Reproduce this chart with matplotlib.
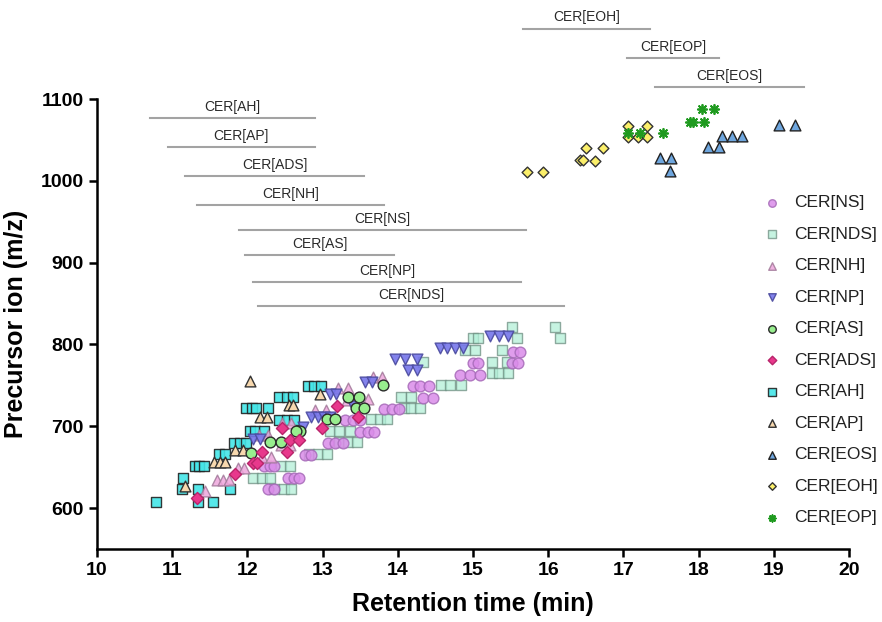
import matplotlib
matplotlib.use("Agg")
import matplotlib.pyplot as plt

plt.rcParams['font.family'] = ['Liberation Sans', 'DejaVu Sans']

# retention time (min) / precursor ion (m/z) per class
ns_x = [15.53, 15.63, 15.00, 15.07, 15.52, 15.60, 14.83, 14.96, 15.09, 14.20, 14.30, 14.42,
        14.34, 14.47, 13.82, 13.92, 14.02, 13.30, 13.40, 13.50, 13.50, 13.60, 13.68,
        13.07, 13.17, 13.27, 12.77, 12.85, 12.22, 12.30, 12.36, 12.54, 12.62, 12.68, 12.28, 12.35]
ns_y = [791, 791, 777, 777, 777, 777, 763, 763, 763, 749, 749, 749,
        735, 735, 721, 721, 721, 708, 708, 708, 693, 693, 693,
        679, 679, 679, 665, 665, 651, 651, 651, 637, 637, 637, 623, 623]

nds_x = [15.52, 16.09, 15.58, 16.16, 15.00, 15.07, 14.90, 15.02, 15.39, 15.25, 15.45, 14.34,
         15.25, 15.35, 15.46, 14.58, 14.70, 14.84, 14.04, 14.18, 14.08, 14.18, 14.30,
         13.64, 13.76, 13.86, 13.10, 13.22, 13.36, 13.22, 13.34, 13.46, 12.82, 12.94, 13.06,
         12.44, 12.56, 12.08, 12.20, 12.30, 12.36, 12.48, 12.58]
nds_y = [821, 821, 808, 808, 808, 808, 793, 793, 793, 778, 778, 778,
         765, 765, 765, 750, 750, 750, 736, 736, 722, 722, 722,
         709, 709, 709, 694, 694, 694, 681, 681, 681, 666, 666, 666,
         651, 651, 637, 637, 637, 623, 623, 623]

nh_x = [13.67, 13.79, 13.20, 13.34, 13.60, 13.32, 13.43, 12.90, 13.04, 12.46, 12.58,
        12.15, 12.28, 12.44, 12.56, 12.20, 12.32, 11.88, 11.96, 11.60, 11.68, 11.76, 11.44]
nh_y = [760, 760, 747, 747, 733, 732, 732, 720, 720, 704, 704,
        689, 689, 677, 677, 662, 662, 649, 649, 634, 634, 634, 621]

np_x = [15.23, 15.35, 15.47, 14.56, 14.66, 14.76, 14.87, 13.96, 14.10, 14.26, 14.13, 14.26,
        13.56, 13.66, 13.10, 13.18, 13.40, 12.84, 12.94, 13.02, 13.10, 12.74, 12.08, 12.17]
np_y = [810, 810, 810, 796, 796, 796, 796, 782, 782, 782, 769, 769,
        754, 754, 739, 739, 725, 711, 711, 711, 711, 699, 684, 684]

as_x = [13.80, 13.34, 13.48, 13.45, 13.55, 13.06, 13.16, 12.70, 12.64, 12.30, 12.44, 12.05]
as_y = [750, 736, 736, 722, 722, 709, 709, 694, 694, 681, 681, 667]

ads_x = [11.33, 11.84, 12.07, 12.13, 12.19, 12.52, 12.46, 12.57, 12.69, 13.19, 12.99, 13.47]
ads_y = [612, 642, 655, 655, 669, 668, 698, 683, 683, 725, 698, 711]

ah_x = [10.78, 11.34, 11.54, 11.13, 11.34, 11.77, 11.15, 11.30, 11.36, 11.42, 11.62, 11.70,
        11.82, 11.90, 11.98, 12.04, 12.10, 12.22, 11.98, 12.06, 12.12, 12.28,
        12.42, 12.52, 12.62, 12.42, 12.52, 12.60, 12.80, 12.88, 12.98]
ah_y = [608, 608, 608, 623, 623, 623, 637, 651, 651, 651, 666, 666,
        680, 680, 680, 694, 694, 694, 722, 722, 722, 722,
        708, 708, 708, 736, 736, 736, 749, 749, 749]

ap_x = [12.03, 12.55, 12.61, 12.17, 12.26, 12.97, 11.84, 11.94, 11.55, 11.63, 11.70, 11.17]
ap_y = [755, 726, 726, 711, 711, 740, 671, 671, 656, 656, 656, 627]

eos_x = [17.49, 17.63, 17.62, 18.13, 18.27, 18.31, 18.45, 18.58, 19.07, 19.28]
eos_y = [1028, 1028, 1012, 1041, 1041, 1055, 1055, 1055, 1068, 1068]

eoh_x = [15.72, 15.93, 16.42, 16.46, 16.62, 16.50, 16.73, 17.06, 17.20, 17.31, 17.06, 17.31]
eoh_y = [1011, 1011, 1025, 1025, 1024, 1040, 1040, 1053, 1053, 1053, 1067, 1067]

eop_x = [17.06, 17.22, 17.53, 17.88, 17.93, 18.07, 18.04, 18.20]
eop_y = [1058, 1058, 1058, 1072, 1072, 1072, 1088, 1088]

# retention time windows drawn above the points
range_names = ["CER[AH]", "CER[AP]", "CER[ADS]", "CER[NH]", "CER[NS]", "CER[AS]", "CER[NP]",
               "CER[NDS]", "CER[EOH]", "CER[EOP]", "CER[EOS]"]
range_start = [10.70, 10.94, 11.17, 11.33, 11.89, 11.97, 12.08, 12.14, 15.67, 17.05, 17.42]
range_end = [12.90, 12.90, 13.55, 13.82, 15.70, 13.95, 15.64, 16.21, 17.35, 18.27, 19.40]
range_level = [1077, 1041, 1006, 970, 940, 909, 876, 847, 1186, 1150, 1115]

fig = plt.figure(figsize=(8.82, 6.22), dpi=100)
ax = fig.add_axes([0.110, 0.1174, 0.8526, 0.7234])

series = {
    "CER[AH]": (ah_x, ah_y, dict(marker='s', c='#45E6E8', edgecolors='#222222', s=60, alpha=0.9)),
    "CER[AP]": (ap_x, ap_y, dict(marker='^', c='#F7D8AE', edgecolors='#333333', s=60)),
    "CER[NDS]": (nds_x, nds_y, dict(marker='s', c='#B3F0D8', edgecolors='#6E8F82', s=60, alpha=0.75)),
    "CER[NS]": (ns_x, ns_y, dict(marker='o', c='#DA8CE9', edgecolors='#A66AB8', s=60, alpha=0.85)),
    "CER[NH]": (nh_x, nh_y, dict(marker='^', c='#EEA6DC', edgecolors='#A27A9A', s=60, alpha=0.85)),
    "CER[NP]": (np_x, np_y, dict(marker='v', c='#7676EA', edgecolors='#4A4A9E', s=60, alpha=0.9)),
    "CER[AS]": (as_x, as_y, dict(marker='o', c='#98EE8E', edgecolors='#2A2A2A', s=60)),
    "CER[ADS]": (ads_x, ads_y, dict(marker='D', c='#E8388C', edgecolors='#B8246A', s=38)),
    "CER[EOS]": (eos_x, eos_y, dict(marker='^', c='#6EA6DE', edgecolors='#222222', s=60)),
    "CER[EOH]": (eoh_x, eoh_y, dict(marker='D', c='#FBEF6A', edgecolors='#333333', s=30)),
    "CER[EOP]": (eop_x, eop_y, dict(marker=(8, 2, 0), c='#1F9A1F', s=45, linewidths=1.3)),
}

handles = {}
for name, (xs, ys, kw) in series.items():
    handles[name] = ax.scatter(xs, ys, label=name, zorder=3, **kw)

for name, x0, x1, lvl in zip(range_names, range_start, range_end, range_level):
    ax.plot([x0, x1], [lvl, lvl], color='#A3A3A3', lw=1.5, clip_on=False, zorder=2)
    ax.annotate(name, xy=((x0 + x1) / 2, lvl), xytext=(0, 3), textcoords='offset points',
                ha='center', va='bottom', fontsize=10, color='#2A2A2A', annotation_clip=False)

ax.set_xlim(10, 20)
ax.set_ylim(550, 1100)
ax.set_xticks(range(10, 21))
ax.set_yticks(range(600, 1101, 100))

for side in ['top', 'right']:
    ax.spines[side].set_visible(False)
for side in ['left', 'bottom']:
    ax.spines[side].set_linewidth(1.8)
ax.tick_params(direction='out', length=6, width=1.8, labelsize=14)
for lab in ax.get_xticklabels() + ax.get_yticklabels():
    lab.set_fontweight('bold')

ax.set_xlabel("Retention time (min)", fontsize=18, fontweight='bold', labelpad=9)
ax.set_ylabel("Precursor ion (m/z)", fontsize=18, fontweight='bold', labelpad=9)

legend_order = ["CER[NS]", "CER[NDS]", "CER[NH]", "CER[NP]", "CER[AS]", "CER[ADS]",
                "CER[AH]", "CER[AP]", "CER[EOS]", "CER[EOH]", "CER[EOP]"]
leg = fig.legend([handles[n] for n in legend_order], legend_order, loc='upper left',
                 bbox_to_anchor=(0.846, 0.700), frameon=False, markerscale=0.7,
                 handletextpad=0.25, labelspacing=0.94, borderpad=0,
                 prop={'size': 12.5})
for t in leg.get_texts():
    t.set_color('#222222')

fig.savefig("out.png", dpi=100)
